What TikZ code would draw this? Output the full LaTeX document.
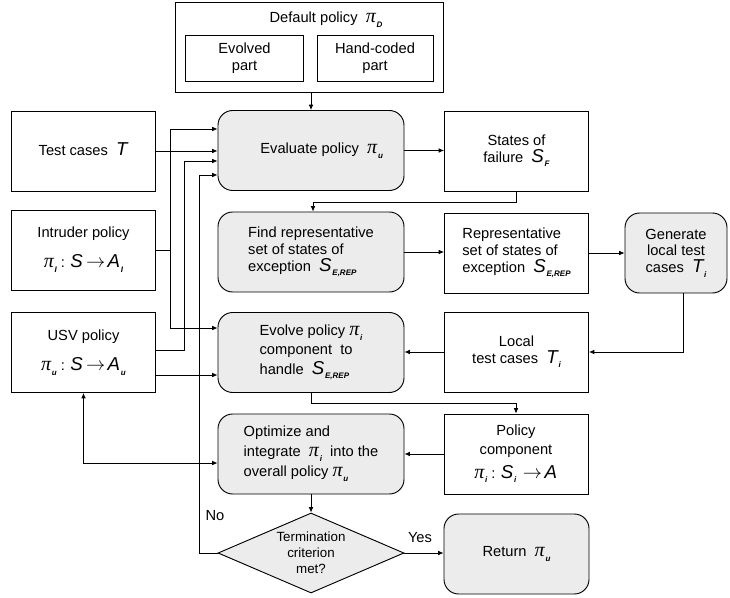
\documentclass[tikz,border=0pt]{standalone}
\usepackage{fontspec}
\setmainfont{Liberation Sans}
\newfontfamily\pifont{Liberation Serif}
\usetikzlibrary{shapes.geometric,arrows.meta,calc}

\newcommand{\vsub}[1]{\kern0.6pt\raisebox{-0.6ex}{\fontsize{6}{6}\selectfont\bfseries\itshape #1}}
\newcommand{\vpi}[1]{{\pifont\itshape\fontsize{15}{12}\selectfont π}\vsub{#1}}
\newcommand{\vsym}[2]{{\fontsize{14}{12}\selectfont\itshape #1}\vsub{#2}}
\newcommand{\vto}{\,{\fontsize{14}{12}\selectfont$\rightarrow$}\,}

\begin{document}
\begin{tikzpicture}[x=0.75pt, y=-0.75pt, font=\fontsize{11}{12.5}\selectfont,
    >={Latex[length=4pt,width=3.5pt]},
    box/.style={draw, line width=0.7pt, minimum width=108pt, minimum height=60pt, align=center, inner sep=2pt},
    proc/.style={box, rounded corners=11pt, fill=gray!15, minimum width=139.5pt},
    link/.style={->, line width=0.6pt}]

  \useasboundingbox (0,0) rectangle (730,598);

  \node[box, minimum width=201pt, minimum height=67.5pt] (D) at (309,47) {};
  \node (Dt) at (326,20) {Default policy ~\vpi{D}};
  \node[box, minimum width=89pt, minimum height=34pt] (De) at (244.5,58.5) {Evolved\\part};
  \node[box, minimum width=87pt, minimum height=34pt] (Dh) at (375,58.5) {Hand-coded\\part};

  \node[box] (T) at (83.5,151) {Test cases ~\vsym{T}{}};
  \node[box] (I) at (83.5,250) {Intruder policy\\[10pt] \vpi{I} : \vsym{S}{}\vto\vsym{A}{I}};
  \node[box] (U) at (83.5,352.5) {USV policy\\[10pt] \vpi{u} : \vsym{S}{}\vto\vsym{A}{u}};

  \node[proc] (E) at (311,150.5) {\hspace*{16pt}Evaluate policy ~\vpi{u}};
  \node[proc, align=left] (F) at (311,252) {Find representative\\set of states of\\exception ~\vsym{S}{E,REP}};
  \node[proc, align=left, font=\fontsize{11}{14.5}\selectfont] (V) at (311,352.5) {Evolve policy \vpi{i}\\component~ to\\handle ~\vsym{S}{E,REP}};
  \node[proc, align=left, font=\fontsize{11}{15}\selectfont] (O) at (311,454) {Optimize and\\integrate ~\vpi{i}~ into the\\overall policy \vpi{u}};
  \node[draw, line width=0.7pt, fill=gray!15, shape=diamond, aspect=2.3, inner sep=0pt,
    minimum width=139.5pt, minimum height=60pt, align=center,
    font=\fontsize{10}{12}\selectfont] (C) at (311,553) {Termination\\criterion\\met?};

  \node[box] (SF) at (516.5,151) {States of\\failure ~\vsym{S}{F}};
  \node[box, align=left] (R) at (516.5,253) {Representative\\set of states of\\exception ~\vsym{S}{E,REP}};
  \node[proc, minimum width=76.5pt] (G) at (676,253) {Generate\\local test\\cases ~\vsym{T}{i}};
  \node[box] (L) at (516.5,352) {Local\\test cases ~\vsym{T}{i}};
  \node[box, font=\fontsize{11}{14}\selectfont] (PC) at (516,454) {Policy\\component\\[4pt]\vpi{i} : \vsym{S}{i}~\vto\vsym{A}{}};
  \node[proc, minimum width=108.75pt] (Ret) at (516.5,554) {Return ~\vpi{u}};

  \node (no) at (215,516) {No};
  \node (yes) at (420,538) {Yes};

  \coordinate (ib) at (170,250);
  \coordinate (ub) at (184,350);
  \coordinate (nb) at (199,553);

  \draw[link] (E.north |- D.south) -- (E.north);
  \draw[link] (T.east) -- (T.east -| E.west);
  \draw[link] (I.east) -- (ib) |- ($(E.west)+(0,-21.5)$);
  \draw[link] (ib) |- ($(V.west)+(0,-24.5)$);
  \draw[link] (U.east |- ub) -- (ub) |- ($(E.west)+(0,10.5)$);
  \draw[link] ($(U.east)+(0,22.5)$) -- ($(V.west)+(0,22.5)$);
  \draw[link] (C.west) -- (nb) |- ($(E.west)+(0,24.5)$);
  \draw[link, <->] (U.south) |- ($(O.west)+(0,9)$);

  \draw[link] (E.east) -- (E.east -| SF.west);
  \draw[link] (SF.south) -- ++(0,11) -| ($(F.north)+(2,0)$);
  \draw[link] (F.east) -- (F.east -| R.west);
  \draw[link] (R.east) -- (R.east -| G.west);
  \draw[link] ($(G.south)+(7,0)$) |- (L.east);
  \draw[link] (L.west) -- (L.west -| V.east);
  \draw[link] (V.south) -- ++(0,10) -| (PC.north);
  \draw[link] (PC.west) -- (PC.west -| O.east);
  \draw[link] (O.south) -- (C.north);
  \draw[link] (C.east) -- (C.east -| Ret.west);
\end{tikzpicture}
\end{document}
